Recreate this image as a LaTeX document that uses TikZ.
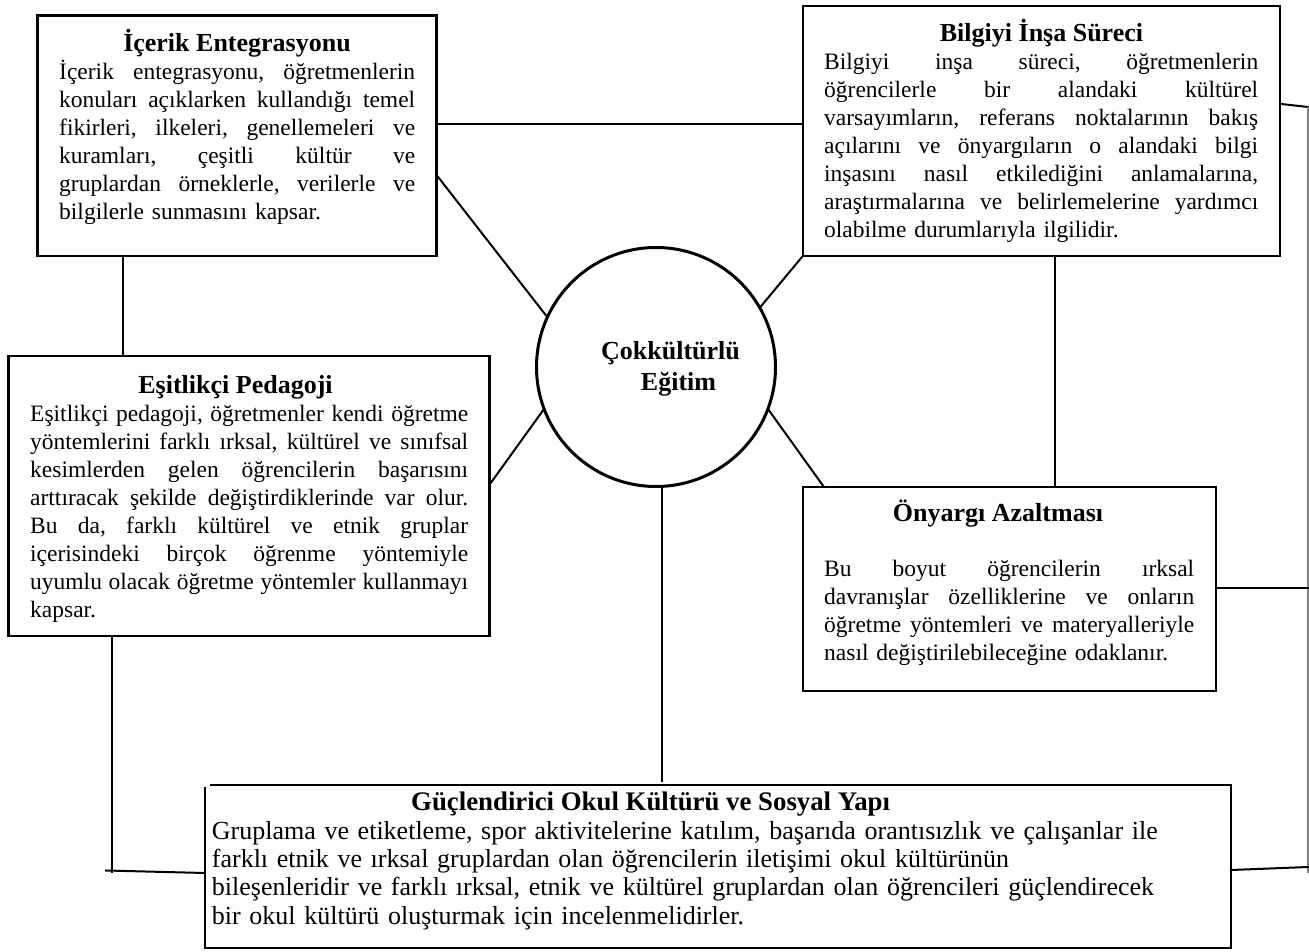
\documentclass[tikz,border=0pt]{standalone}
\usepackage{fontspec}
\setmainfont{Liberation Serif}
\usetikzlibrary{calc}
\newlength{\jw}
\newcommand{\jl}[1]{\makebox[\jw][s]{\spaceskip=0.25em plus 1fil minus 0.06em\relax #1}\\}
\tikzset{
  boxthick/.style={draw, line width=2.8pt, rectangle, inner sep=0pt},
  boxthin/.style={draw, line width=1.8pt, rectangle, inner sep=0pt},
  boxnone/.style={rectangle, inner sep=0pt, outer sep=0.9pt},
  ttl/.style={font=\fontsize{26}{30.7}\selectfont\bfseries, inner sep=0pt, anchor=base},
  bodytxt/.style={font=\fontsize{23.5}{28}\selectfont\frenchspacing, inner sep=0pt, anchor=base west, align=left},
  conn/.style={line width=2pt, line cap=rect},
  greyline/.style={line width=1.5pt, draw=black!50},
}
\begin{document}
\begin{tikzpicture}[x=1pt, y=-1pt]
\useasboundingbox (0,0) rectangle (1309,952);
\fill[white] (0,0) rectangle (1309,952);

% boxes
\node[boxthick, minimum width=399, minimum height=240] (b1) at (237.2,135.9) {};
\node[boxthick, minimum width=477, minimum height=250] (b2) at (1041.5,131) {};
\node[boxthick, minimum width=481, minimum height=280] (b3) at (248.6,496) {};
\node[boxthin, minimum width=413, minimum height=204] (b4) at (1009.5,589) {};
\node[boxnone, minimum width=1024, minimum height=161] (b5) at (718,866.5) {};
\draw[line width=1.8pt] ($(b5.north west)+(5,0)$) -- (b5.north east) -- (b5.south east) -- (b5.south west) -- ($(b5.north west)+(0,2)$);

\node[draw, circle, line width=3pt, minimum size=239, inner sep=0pt] (circ) at (656,367) {};

% texts
\node[ttl] (t1) at (237,52) {İçerik Entegrasyonu};
\node[bodytxt, text width=356] (x1) at (59,80) {\setlength{\jw}{356pt}%
\jl{İçerik entegrasyonu, öğretmenlerin}
\jl{konuları açıklarken kullandığı temel}
\jl{fikirleri, ilkeleri, genellemeleri ve}
\jl{kuramları, çeşitli kültür ve}
\jl{gruplardan örneklerle, verilerle ve}
bilgilerle sunmasını kapsar.};

\node[ttl] (t2) at (1041.5,41.7) {Bilgiyi İnşa Süreci};
\node[bodytxt, text width=434] (x2) at (824,70) {\setlength{\jw}{434pt}%
\jl{Bilgiyi inşa süreci, öğretmenlerin}
\jl{öğrencilerle bir alandaki kültürel}
\jl{varsayımların, referans noktalarının bakış}
\jl{açılarını ve önyargıların o alandaki bilgi}
\jl{inşasını nasıl etkilediğini anlamalarına,}
\jl{araştırmalarına ve belirlemelerine yardımcı}
olabilme durumlarıyla ilgilidir.};

\node[ttl] (t3) at (235.5,393) {Eşitlikçi Pedagoji};
\node[bodytxt, text width=438] (x3) at (30,421.7) {\setlength{\jw}{438pt}%
\jl{Eşitlikçi pedagoji, öğretmenler kendi öğretme}
\jl{yöntemlerini farklı ırksal, kültürel ve sınıfsal}
\jl{kesimlerden gelen öğrencilerin başarısını}
\jl{arttıracak şekilde değiştirdiklerinde var olur.}
\jl{Bu da, farklı kültürel ve etnik gruplar}
\jl{içerisindeki birçok öğrenme yöntemiyle}
\jl{uyumlu olacak öğretme yöntemler kullanmayı}
kapsar.};

\node[ttl] (t4) at (998,521.7) {Önyargı Azaltması};
\node[bodytxt, text width=370] (x4) at (824,576.7) {\setlength{\jw}{370pt}%
\jl{Bu boyut öğrencilerin ırksal}
\jl{davranışlar özelliklerine ve onların}
\jl{öğretme yöntemleri ve materyalleriyle}
nasıl değiştirilebileceğine odaklanır.};

\node[ttl, font=\fontsize{26.8}{31}\selectfont\bfseries] (t5) at (650.6,810) {Güçlendirici Okul Kültürü ve Sosyal Yapı};
\node[bodytxt, text width=1010, font=\fontsize{26}{28.3}\selectfont] (x5) at (211.7,839.3) {%
Gruplama ve etiketleme, spor aktivitelerine katılım, başarıda orantısızlık ve çalışanlar ile\\
farklı etnik ve ırksal gruplardan olan öğrencilerin iletişimi okul kültürünün\\
bileşenleridir ve farklı ırksal, etnik ve kültürel gruplardan olan öğrencileri güçlendirecek\\
bir okul kültürü oluşturmak için incelenmelidirler.};

\node[ttl, align=center, text width=220] (ct) at (670.5,359.3) {Çokkültürlü\\\hspace*{16pt}Eğitim};

% helper coordinates
\coordinate (h124) at (0,124);
\coordinate (p177) at (0,177);
\coordinate (p483) at (0,483.3);
\coordinate (x823) at (823.3,0);
\coordinate (x662) at (661.7,0);
\coordinate (e7) at (661.7,781);
\coordinate (x1055) at (1055,0);
\coordinate (x122) at (122.5,0);
\coordinate (x112) at (112,0);
\coordinate (p104) at (0,104);
\coordinate (r1) at (1308,107);
\coordinate (r2) at (1308,873);
\coordinate (r3) at (1308,588);
\coordinate (r4) at (1308,867);
\coordinate (p870) at (0,870);
\coordinate (l1) at (112,872);
\coordinate (l0) at (106,870.5);
\coordinate (p873) at (0,873);

% connectors
\draw[conn] (b1.east |- h124) -- (b2.west |- h124);
\draw[conn] (b1.south -| x122) -- (b3.north -| x122);
\draw[conn] (b1.east |- p177) -- (circ.155.6);
\draw[conn] (circ.30.8) -- (b2.south west);
\draw[conn] (circ.201.9) -- (b3.east |- p483);
\draw[conn] (circ.339) -- (b4.north -| x823);
\draw[conn] (circ.south -| x662) -- (e7);
\draw[conn] (b2.south -| x1055) -- (b4.north -| x1055);
\draw[conn] (b2.east |- p104) -- (r1);
\draw[greyline] (r1) -- (r2);
\draw[conn] (b4.east |- r3) -- (r3);
\draw[conn] (b5.east |- p870) -- (r4);
\draw[conn] (b3.south -| x112) -- (l1);
\draw[conn] (l0) -- (b5.west |- p873);
\end{tikzpicture}
\end{document}
